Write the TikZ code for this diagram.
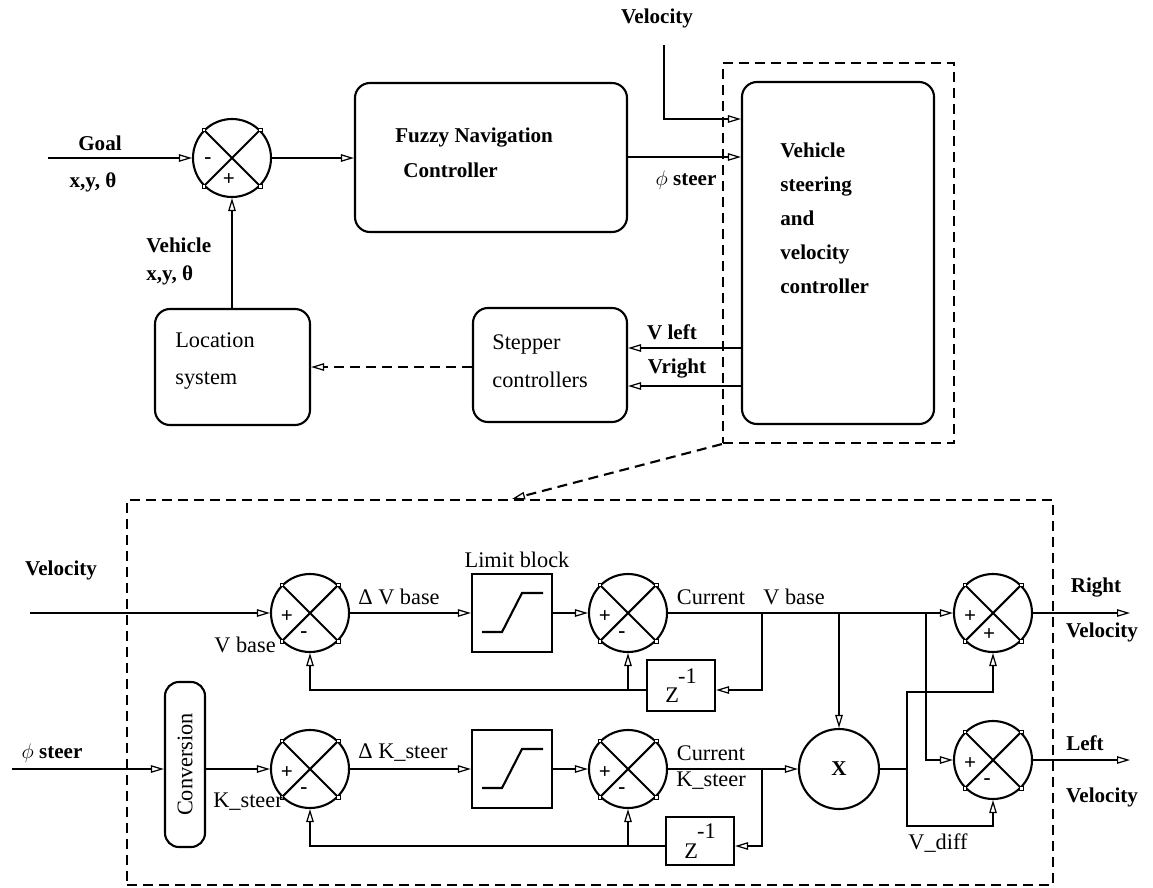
\documentclass[tikz,border=0pt]{standalone}
\usepackage{fontspec}
\setmainfont{Liberation Serif}
\usetikzlibrary{arrows.meta, positioning, calc}

\begin{document}
\begin{tikzpicture}[x=0.2mm, y=-0.2mm,
    blk/.style={rectangle, draw, line width=1.2pt, rounded corners=3mm, inner sep=0pt},
    sq/.style={rectangle, draw, line width=1.2pt, inner sep=0pt,
               font=\fontsize{12.7}{15}\selectfont},
    sumj/.style={circle, draw, line width=1.2pt, minimum size=15.6mm, inner sep=0pt,
                 path picture={\draw[line width=1.2pt]
                   (path picture bounding box.north west) -- (path picture bounding box.south east)
                   (path picture bounding box.north east) -- (path picture bounding box.south west);}},
    limb/.style={sq, minimum width=16mm, minimum height=15.6mm,
                 path picture={\draw[line width=1.2pt] (path picture bounding box.center)
                   ++(-6mm,-3.8mm) -- ++(4mm,0) -- ++(4mm,7.8mm) -- ++(4.2mm,0);}},
    dotsq/.style={rectangle, draw, fill=white, minimum size=0.7mm, inner sep=0pt, line width=0.4pt},
    sgn/.style={font=\fontsize{12}{14}\selectfont\bfseries, inner sep=0pt},
    lbl/.style={font=\fontsize{12}{14}\selectfont\bfseries, inner sep=0pt},
    txt/.style={font=\fontsize{12.7}{15}\selectfont, inner sep=0pt},
    arr/.style={-{Triangle[open, length=2.6mm, width=1.5mm, line width=0.7pt]}, line width=1.2pt},
    dsh/.style={dash pattern=on 2mm off 1.2mm, line width=1.2pt}
  ]
  \useasboundingbox (0,0) rectangle (1153,887);

  % navigation loop
  \node[sumj] (err) at (232,158) {};
  \node[blk, minimum width=54.4mm, minimum height=29.8mm] (fuzzy) at (491,157.5) {};
  \node[blk, minimum width=38.4mm, minimum height=68.4mm] (vsc) at (838,253) {};
  \node[draw, dsh, minimum width=46.2mm, minimum height=76mm, inner sep=0pt] (vscfr) at (838.5,253) {};
  \node[blk, minimum width=31mm, minimum height=23.2mm] (loc) at (232.5,367) {};
  \node[blk, minimum width=30.8mm, minimum height=22.8mm] (stp) at (550,365) {};
  \coordinate (goal) at (48,158);
  \coordinate (vtop) at (664,45);

  \node[lbl, anchor=west, align=left] at (395,152.5) {Fuzzy Navigation\\[5.8pt]\hspace*{1.6mm}Controller};
  \node[lbl, anchor=west, align=left] at (780,218.5)
    {Vehicle\\[5.4pt]steering\\[5.4pt]and\\[5.4pt]velocity\\[5.4pt]controller};
  \node[txt, anchor=west, align=left] at (175,361) {Location\\[6.5pt]system};
  \node[txt, anchor=west, align=left] at (492,361) {Stepper\\[6.5pt]controllers};

  \draw[arr] (goal) -- (err.west);
  \draw[arr] (err.east) -- (err.east -| fuzzy.west);
  \draw[arr] (loc.north -| err) -- (err.south);
  \draw[arr] (fuzzy.east |- 0,157) -- (vsc.west |- 0,157);
  \draw[arr] (vtop) |- (vsc.west |- 0,119);
  \draw[arr] (vsc.west |- 0,348) -- (stp.east |- 0,348);
  \draw[arr] (vsc.west |- 0,386) -- (stp.east |- 0,386);
  \draw[arr, dsh] (stp.west |- 0,367) -- (loc.east |- 0,367);

  \node[lbl] at (100,143) {Goal};
  \node[lbl] at (93,182) {x,y, θ};
  \node[lbl, anchor=west, align=left] at (146,261) {Vehicle\\[1.9pt]x,y, θ};
  \node[lbl] at (657,18) {Velocity};
  \node[lbl] at (686,180) {$\phi$ steer};
  \node[lbl] at (672,332) {V left};
  \node[lbl] at (677,369) {Vright};

  % steering and velocity controller
  \node[draw, dsh, minimum width=185.2mm, minimum height=77mm, inner sep=0pt] (lowfr) at (590,692.5) {};
  \draw[arr, dsh] (vscfr.south west) -- (lowfr.north -| 512,0);

  \node[sumj] (s1) at (310,613) {};
  \node[limb] (lim1) at (512,613) {};
  \node[sumj] (s2) at (628,613) {};
  \node[sq, minimum width=13.6mm, minimum height=10.2mm] (z1) at (681,685.5) {Z\kern-0.5pt\raisebox{11pt}{-1}};
  \node[sumj] (s3) at (993,613) {};
  \node[sumj] (s4) at (993,760) {};
  \node[circle, draw, line width=1.2pt, minimum size=16mm, inner sep=0pt, lbl] (mul) at (839,769) {X};
  \node[blk, rounded corners=2.8mm, minimum width=8mm, minimum height=33mm, txt] (conv) at (185,764.5)
    {\rotatebox{90}{Conversion}};
  \node[sumj] (s1b) at (310,769) {};
  \node[limb] (lim2) at (512,769) {};
  \node[sumj] (s2b) at (628,769) {};
  \node[sq, minimum width=13.6mm, minimum height=9.6mm] (z2) at (700,841) {Z\kern-0.5pt\raisebox{11pt}{-1}};

  \foreach \s in {err,s1,s2,s1b,s2b,s3,s4}
    \foreach \a in {north west,north east,south west,south east}
      \node[dotsq] at (\s.\a) {};

  \node[sgn] at ([shift={(-24,3)}]err.center) {-};
  \node[sgn] at ([shift={(-3,22)}]err.center) {+};
  \node[sgn] at ([shift={(-23,4)}]s1.center) {+};
  \node[sgn] at ([shift={(-6,22)}]s1.center) {-};
  \node[sgn] at ([shift={(-23,4)}]s2.center) {+};
  \node[sgn] at ([shift={(-6,22)}]s2.center) {-};
  \node[sgn] at ([shift={(-23,4)}]s1b.center) {+};
  \node[sgn] at ([shift={(-6,22)}]s1b.center) {-};
  \node[sgn] at ([shift={(-23,4)}]s2b.center) {+};
  \node[sgn] at ([shift={(-6,22)}]s2b.center) {-};
  \node[sgn] at ([shift={(-23,4)}]s3.center) {+};
  \node[sgn] at ([shift={(-4,22)}]s3.center) {+};
  \node[sgn] at ([shift={(-23,4)}]s4.center) {+};
  \node[sgn] at ([shift={(-6,22)}]s4.center) {-};

  \coordinate (vin) at (30,613);
  \coordinate (phin) at (12,769);
  \coordinate (j1) at (762,613);
  \coordinate (j2) at (mul |- s3);
  \coordinate (j3) at (926,613);
  \coordinate (j4) at (762,769);
  \coordinate (jd) at (907,769);
  \coordinate (rout) at (1130,613);
  \coordinate (lout) at (1130,760);

  \draw[arr] (vin) -- (s1.west);
  \draw[arr] (phin) -- (phin -| conv.west);
  \draw[arr] (phin -| conv.east) -- (s1b.west);
  \draw[arr] (s1.east) -- (lim1.west);
  \draw[arr] (lim1.east) -- (s2.west);
  \draw[arr] (s1b.east) -- (lim2.west);
  \draw[arr] (lim2.east) -- (s2b.west);
  \draw[arr] (s2.east) -- (s3.west);
  \draw[arr] (j1) |- (z1.east |- 0,690);
  \draw[arr] (z1.west |- 0,690) -| (s1.south);
  \draw[arr] (s2.south |- 0,690) -- (s2.south);
  \draw[arr] (j2) -- (mul.north);
  \draw[arr] (j3) |- (s4.west);
  \draw[arr] (s2b.east) -- (mul.west);
  \draw[arr] (j4) |- (z2.east |- 0,846);
  \draw[arr] (z2.west |- 0,846) -| (s1b.south);
  \draw[arr] (s2b.south |- 0,846) -- (s2b.south);
  \draw[line width=1.2pt] (mul.east) -- (jd);
  \draw[arr] (jd) -- (jd |- 0,692) -| (s3.south);
  \draw[arr] (jd) -- (jd |- 0,826) -| (s4.south);
  \draw[arr] (s3.east) -- (rout);
  \draw[arr] (s4.east) -- (lout);

  % Annotations
  \node[lbl] at (61,570) {Velocity};
  \node[lbl] at (52,753) {$\phi$ steer};
  \node[txt] at (245,645) {V base};
  \node[txt] at (248,802) {K\_steer};
  \node[txt] at (399,597) {Δ V base};
  \node[txt] at (517,560) {Limit block};
  \node[txt] at (403,753) {Δ K\_steer};
  \node[txt] at (711,597) {Current};
  \node[txt] at (794,597) {V base};
  \node[txt] at (711,753) {Current};
  \node[txt] at (711,781) {K\_steer};
  \node[txt] at (938,843) {V\_diff};
  \node[lbl] at (1096,588) {Right};
  \node[lbl] at (1102,632) {Velocity};
  \node[lbl] at (1085,743) {Left};
  \node[lbl] at (1102,797) {Velocity};
\end{tikzpicture}
\end{document}
